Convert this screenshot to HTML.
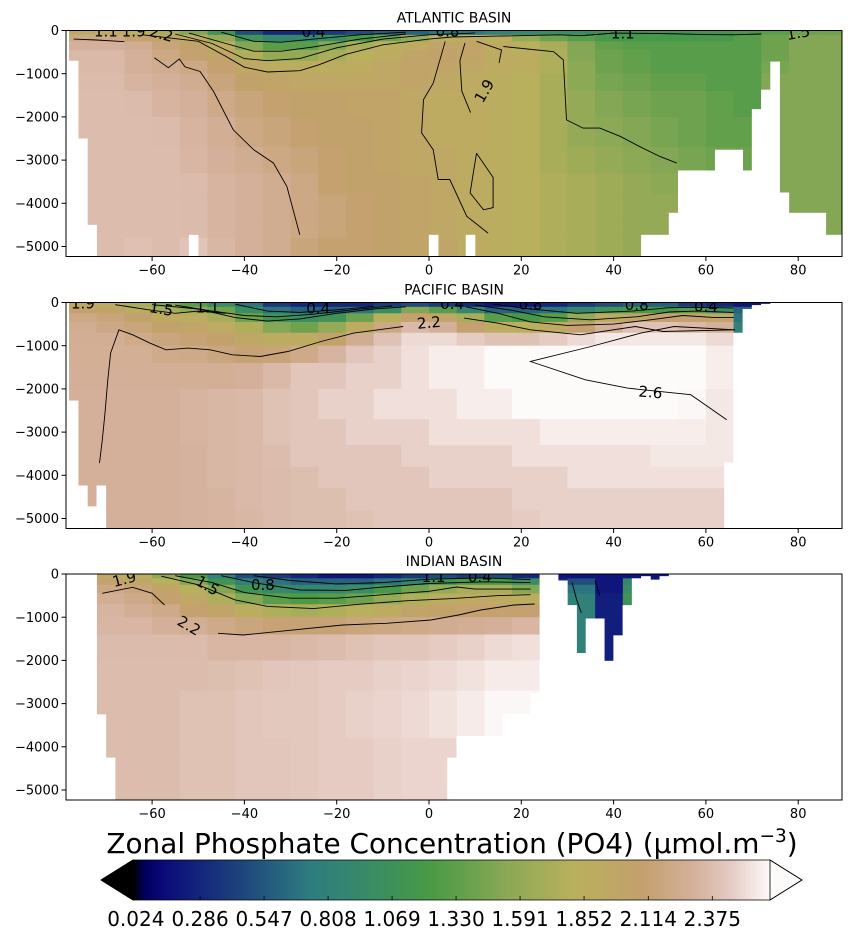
<!DOCTYPE html>
<html><head><meta charset="utf-8">
<style>
html,body{margin:0;padding:0;background:#fff;}
svg{display:block;}
text{font-family:"DejaVu Sans","Liberation Sans",sans-serif;fill:#000;}
</style></head>
<body>
<svg id="fig" width="854" height="940" viewBox="0 0 854 940" xmlns="http://www.w3.org/2000/svg"></svg>
<script>
// ---------------- data ----------------
const depthEdges=[0,100,250,450,700,1000,1400,2000,2700,3300,3800,4300,4800,5240];
const latEdges=[-78,-72,-66,-60,-54,-48,-42,-36,-30,-24,-18,-12,-6,0,6,12,18,24,30,36,42,48,54,60,66,72,78,84,90];
const binCenters=[-77,-75,-73,-71,-69,-67,-65,-63,-61,-59,-57,-55,-53,-51,-49,-47,-45,-43,-41,-39,-37,-35,-33,-31,-29,-27,-25,-23,-21,-19,-17,-15,-13,-11,-9,-7,-5,-3,-1,1,3,5,7,9,11,13,15,17,19,21,23,25,27,29,31,33,35,37,39,41,43,45,47,49,51,53,55,57,59,61,63,65,67,69,71,73,75,77,79,81,83,85,87,89];

const atlVals=[
[1.9,1.9,1.8,1.7,1.5,1.1,0.5,0.3,0.3,0.4,0.5,0.6,0.6,0.7,0.7,0.8,0.9,1.0,1.0,1.1,1.1,1.1,1.1,1.1,1.2,1.3,1.4,1.4],
[2.2,2.2,2.1,2.0,1.9,1.6,1.1,0.9,0.9,1.0,1.2,1.4,1.6,1.8,1.9,1.8,1.6,1.4,1.3,1.2,1.2,1.2,1.2,1.2,1.3,1.4,1.5,1.5],
[2.3,2.3,2.25,2.15,2.05,1.85,1.5,1.3,1.3,1.5,1.7,1.8,1.9,2.0,2.0,1.9,1.8,1.7,1.5,1.35,1.3,1.3,1.3,1.3,1.3,1.4,1.5,1.5],
[2.35,2.35,2.3,2.2,2.1,2.0,1.75,1.6,1.6,1.7,1.8,1.9,2.0,2.05,2.0,1.9,1.85,1.75,1.5,1.4,1.35,1.3,1.3,1.3,1.3,1.4,1.5,1.5],
[2.35,2.35,2.3,2.25,2.2,2.1,1.95,1.85,1.85,1.85,1.9,1.95,2.0,2.0,1.95,1.9,1.85,1.75,1.55,1.4,1.35,1.3,1.3,1.3,1.3,1.45,1.5,1.5],
[2.36,2.36,2.32,2.3,2.25,2.15,2.05,2.0,1.95,1.95,1.95,1.95,2.0,1.95,1.9,1.85,1.8,1.7,1.55,1.45,1.4,1.35,1.35,1.3,1.3,1.5,1.5,1.5],
[2.37,2.37,2.36,2.32,2.3,2.22,2.15,2.1,2.05,2.05,2.0,2.0,1.95,1.9,1.9,1.85,1.8,1.7,1.6,1.5,1.45,1.4,1.4,1.35,1.3,1.5,1.5,1.5],
[2.37,2.37,2.37,2.36,2.32,2.27,2.2,2.15,2.1,2.05,2.05,2.0,1.95,1.9,1.9,1.85,1.8,1.7,1.6,1.55,1.5,1.45,1.4,1.35,1.35,1.5,1.5,1.5],
[2.37,2.37,2.37,2.37,2.33,2.3,2.25,2.2,2.15,2.1,2.05,2.0,1.95,1.95,1.9,1.85,1.8,1.7,1.65,1.6,1.55,1.5,1.45,1.4,1.4,1.5,1.5,1.5],
[2.37,2.37,2.37,2.37,2.36,2.32,2.3,2.25,2.2,2.1,2.05,2.05,2.0,1.95,1.9,1.85,1.8,1.75,1.7,1.65,1.6,1.55,1.5,1.5,1.5,1.5,1.5,1.5],
[2.37,2.37,2.37,2.37,2.36,2.32,2.3,2.25,2.2,2.15,2.1,2.05,2.0,1.95,1.9,1.85,1.8,1.75,1.7,1.65,1.6,1.6,1.55,1.55,1.5,1.5,1.5,1.5],
[2.37,2.37,2.37,2.37,2.36,2.32,2.3,2.25,2.2,2.15,2.1,2.05,2.0,1.95,1.9,1.85,1.8,1.75,1.7,1.65,1.6,1.6,1.55,1.55,1.5,1.5,1.5,1.5],
[2.39,2.37,2.39,2.37,2.41,2.34,2.3,2.25,2.15,2.1,2.1,2.05,2.0,2.0,1.9,1.85,1.8,1.75,1.7,1.65,1.6,1.6,1.55,1.55,1.5,1.5,1.5,1.5]
];
const pacVals=[
[1.9,1.8,1.7,1.5,1.3,1.0,0.7,0.4,0.3,0.3,0.3,0.4,0.5,0.4,0.3,0.2,0.2,0.3,0.4,0.5,0.6,0.6,0.4,0.3,0.2,0.1],
[2.1,2.0,1.9,1.7,1.6,1.4,1.0,0.7,0.6,0.6,0.7,1.0,1.5,1.3,0.9,0.6,0.6,0.7,0.9,1.1,1.2,1.2,1.3,1.0,0.6,0.2],
[2.2,2.15,2.05,1.9,1.85,1.7,1.4,1.1,1.0,1.1,1.4,1.8,2.1,2.0,1.7,1.3,1.2,1.3,1.6,1.9,2.0,2.1,2.1,2.0,0.7],
[2.25,2.2,2.15,2.05,2.0,1.9,1.75,1.5,1.4,1.6,1.9,2.2,2.35,2.3,2.1,1.9,1.8,1.9,2.1,2.3,2.4,2.4,2.35,2.3,0.8],
[2.27,2.27,2.22,2.17,2.12,2.07,1.97,1.87,1.9,2.05,2.25,2.4,2.5,2.5,2.45,2.4,2.4,2.45,2.5,2.55,2.55,2.55,2.55,2.5],
[2.28,2.28,2.28,2.23,2.22,2.17,2.12,2.14,2.22,2.32,2.42,2.47,2.52,2.57,2.57,2.62,2.62,2.62,2.67,2.67,2.67,2.62,2.62,2.57],
[2.29,2.29,2.29,2.29,2.28,2.28,2.3,2.35,2.42,2.42,2.47,2.47,2.52,2.57,2.57,2.62,2.67,2.67,2.67,2.67,2.67,2.67,2.62,2.57],
[2.3,2.3,2.3,2.3,2.32,2.34,2.35,2.4,2.42,2.47,2.47,2.52,2.52,2.52,2.57,2.57,2.62,2.62,2.62,2.62,2.62,2.62,2.6,2.55],
[2.3,2.3,2.3,2.3,2.32,2.34,2.35,2.4,2.42,2.42,2.47,2.47,2.47,2.52,2.52,2.52,2.52,2.57,2.57,2.57,2.57,2.57,2.57,2.55],
[2.3,2.3,2.3,2.3,2.31,2.34,2.35,2.37,2.42,2.42,2.42,2.42,2.47,2.47,2.47,2.47,2.52,2.52,2.52,2.52,2.52,2.55,2.55,2.55],
[2.3,2.3,2.3,2.3,2.31,2.34,2.35,2.36,2.38,2.42,2.42,2.42,2.42,2.47,2.47,2.47,2.47,2.47,2.52,2.52,2.52,2.52,2.52,2.52],
[2.3,2.3,2.3,2.3,2.31,2.32,2.35,2.36,2.38,2.38,2.42,2.42,2.42,2.42,2.42,2.42,2.47,2.47,2.47,2.47,2.47,2.47,2.47,2.47],
[2.3,2.3,2.3,2.3,2.31,2.32,2.34,2.36,2.38,2.38,2.4,2.42,2.42,2.42,2.42,2.42,2.45,2.47,2.47,2.47,2.47,2.47,2.47,2.47]
];
const indVals=[
[1.9,1.9,1.8,1.6,1.2,0.8,0.5,0.4,0.3,0.2,0.2,0.3,0.4,0.5,0.4,0.5,0.3,0.2,0.2,0.2,0.2,0.2],
[2.1,2.1,2.0,1.8,1.5,1.1,0.8,0.7,0.6,0.6,0.6,0.7,0.9,1.1,1.2,1.2,1.0,0.3,0.5,0.2,0.9,0.2],
[2.2,2.2,2.15,2.0,1.8,1.5,1.1,0.95,0.9,0.9,1.0,1.2,1.4,1.6,1.7,1.7,1.5,0.3,0.7,0.2,1.0],
[2.27,2.27,2.22,2.1,1.95,1.75,1.5,1.3,1.25,1.3,1.4,1.6,1.75,1.85,1.9,1.9,1.85,0.3,0.8,0.25,1.1],
[2.32,2.32,2.27,2.22,2.1,2.0,1.85,1.75,1.7,1.75,1.8,1.9,2.0,2.05,2.1,2.1,2.1,0.3,0.8,0.25,1.1],
[2.33,2.33,2.33,2.3,2.27,2.22,2.17,2.12,2.12,2.12,2.17,2.2,2.22,2.25,2.27,2.3,2.33,0.3,0.8,0.25],
[2.36,2.36,2.36,2.36,2.36,2.33,2.33,2.33,2.35,2.37,2.4,2.42,2.42,2.45,2.47,2.5,2.52,0.3,0.8,0.25],
[2.37,2.37,2.37,2.37,2.37,2.38,2.4,2.42,2.43,2.45,2.45,2.47,2.48,2.5,2.53,2.56,2.56],
[2.37,2.37,2.37,2.37,2.4,2.4,2.42,2.43,2.43,2.45,2.47,2.48,2.5,2.53,2.56,2.6,2.6],
[2.37,2.37,2.37,2.37,2.4,2.4,2.42,2.43,2.43,2.45,2.47,2.48,2.5,2.53,2.56,2.6],
[2.37,2.37,2.37,2.37,2.4,2.4,2.42,2.42,2.43,2.45,2.45,2.47,2.48,2.48],
[2.37,2.37,2.37,2.37,2.4,2.4,2.42,2.42,2.43,2.45,2.45,2.47,2.48,2.48],
[2.37,2.37,2.37,2.37,2.4,2.4,2.42,2.42,2.43,2.45,2.45,2.47,2.48,2.48]
];

const atlBottom=[700,2500,4500,5240,5240,5240,5240,5240,5240,5240,5240,5240,5240,4730,5240,5240,5240,5240,5240,5240,5240,5240,5240,5240,5240,5240,5240,5240,5240,5240,5240,5240,5240,5240,5240,5240,5240,5240,5240,4730,5240,5240,5240,4730,5240,5240,5240,5240,5240,5240,5240,5240,5240,5240,5240,5240,5240,5240,5240,5240,5240,5240,4730,4730,4730,4220,3240,3240,3240,3240,2760,2760,2760,3240,1820,1370,720,3750,4220,4220,4220,4220,4730,4730];
const pacBottom=[2270,4236,4720,4236,5240,5240,5240,5240,5240,5240,5240,5240,5240,5240,5240,5240,5240,5240,5240,5240,5240,5240,5240,5240,5240,5240,5240,5240,5240,5240,5240,5240,5240,5240,5240,5240,5240,5240,5240,5240,5240,5240,5240,5240,5240,5240,5240,5240,5240,5240,5240,5240,5240,5240,5240,5240,5240,5240,5240,5240,5240,5240,5240,5240,5240,5240,5240,5240,5240,5240,5240,3700,700,150,60,30,0,0,0,0,0,0,0,0];
const indBottom=[0,0,0,3250,4250,5240,5240,5240,5240,5240,5240,5240,5240,5240,5240,5240,5240,5240,5240,5240,5240,5240,5240,5240,5240,5240,5240,5240,5240,5240,5240,5240,5240,5240,5240,5240,5240,5240,5240,5240,5240,4250,3750,3750,3750,3750,3750,3250,3250,3250,2760,0,0,150,720,1830,1030,1030,2280,1420,720,100,50,130,50,0,0,0,0,0,0,0,0,0,0,0,0,0,0,0,0,0,0,0];

// contour polylines [lat, depth]
const atlContours=[
[[-59.5,630],[-56.5,860],[-54.1,660],[-52.9,840],[-49.6,950],[-46.7,1410],[-42.4,2300],[-38,2760],[-33.7,3070],[-30.8,3610],[-28,4730]],
[[-62,100],[-50,250],[-44,600],[-40,850],[-35,960],[-28,930],[-24,800],[-18,550],[-10,330],[0,200],[5,150],[15,130],[28,100],[33,120],[40,60]],
[[-55,80],[-47,300],[-40,650],[-35,700],[-28,650],[-20,400],[-10,200],[0,100],[10,60]],
[[-52,60],[-44,300],[-38,480],[-32,480],[-25,380],[-15,200],[-5,80]],
[[-45,40],[-38,250],[-32,270],[-25,200],[-15,100],[-5,40]],
[[3.5,254],[0.9,1220],[-1.2,1600],[-1.6,2370],[0.9,2760],[2,3450],[4.5,3450],[8.2,4300],[12.8,4690]],
[[7.8,290],[6.7,700],[7.1,1400],[9,1900]],
[[10.3,250],[15.7,450],[15.2,750]],
[[10.3,2840],[8.9,3760],[11.8,4150],[13.9,4100],[13.9,3400],[10.3,2840]],
[[16.1,370],[27,490],[29.1,680],[29.8,2070],[33.4,2260],[37,2260],[41.4,2450],[45.7,2690],[50.1,2920],[53.7,3070]],
[[34,110],[40,60],[50,70],[60,95],[66,100],[72,80]],
[[-77,200],[-72,220],[-66,260]]
];
const pacContours=[
[[-71.4,3718],[-70.8,3178],[-70.2,2560],[-69.6,1789],[-69,1171],[-67.2,632],[-64.2,748],[-60.6,933],[-57,1095],[-52.2,1056],[-47.4,1095],[-42.6,1211],[-36.6,1250],[-30.6,1134],[-23.4,903],[-16.3,708],[-5.6,556]],
[[7.6,361],[14.8,477],[22,632],[32.8,748],[44.7,556],[50.7,671],[66.3,632]],
[[64.5,2715],[56.7,2134],[43,1982],[33.9,1789],[22,1366],[35.1,1018],[45.9,709],[53.1,556],[66.3,632]],
[[-60,50],[-50,150],[-42,350],[-35,430],[-28,380],[-20,250],[-12,150],[-5,100]],
[[-55,60],[-47,200],[-40,300],[-33,330],[-25,270],[-15,150],[-8,80]],
[[-42,40],[-35,200],[-28,230],[-20,170],[-12,90]],
[[8,100],[15,250],[22,450],[30,530],[40,500],[48,400],[55,300],[62,350],[66,350]],
[[10,60],[18,180],[25,330],[35,400],[45,330],[52,220],[58,200],[66,230]],
[[14,40],[22,150],[32,250],[44,200],[52,120],[60,110],[66,130]],
[[-68,50],[-60,180],[-55,250],[-50,200],[-44,250]]
];
const indContours=[
[[-45.7,1373],[-40.3,1412],[-33.1,1335],[-18.7,1181],[-9.2,1142],[0.4,1065],[6.4,949],[11.2,833],[18.4,718],[22.9,694]],
[[-70.8,447],[-64.2,308],[-60,447],[-57.3,718]],
[[-58,50],[-50,250],[-42,600],[-35,750],[-25,800],[-15,700],[-5,620],[5,570],[15,500],[22,480]],
[[-55,40],[-47,200],[-40,430],[-30,560],[-20,560],[-10,480],[0,400],[6,300],[10,350],[22,350]],
[[-45,40],[-38,200],[-28,370],[-18,380],[-10,300],[0,220],[12,180],[22,200]],
[[-38,40],[-30,150],[-20,230],[-10,200],[0,120],[12,90],[22,130]],
[[31,200],[32,600],[33,900]],[[36,150],[37,500]]
];
const atlLabels=[["1.1",-70,20,0],["1.9",-64,20,0],["2.2",-58,80,15],["0.4",-25,40,0],["0.8",4,20,0],["1.1",42,70,0],["1.5",80,60,-10],["1.9",12,1400,-60]];
const pacLabels=[["1.9",-75,20,0],["1.5",-58,150,10],["1.1",-48,110,0],["0.4",-24,140,0],["0.4",5,40,0],["0.8",22,50,0],["0.8",45,60,0],["0.4",60,90,0],["2.2",0,470,-5],["2.6",48,2080,5]];
const indLabels=[["1.9",-66,120,-15],["1.5",-48,270,30],["0.8",-36,260,0],["1.1",1,70,0],["0.4",11,70,0],["2.2",-52,1200,30]];

const xTicks=[-60,-40,-20,0,20,40,60,80];
const yTicks=[0,1000,2000,3000,4000,5000];
const cbarTicks=[0.024,0.286,0.547,0.808,1.069,1.330,1.591,1.852,2.114,2.375];
const cbarTickLabels=["0.024","0.286","0.547","0.808","1.069","1.330","1.591","1.852","2.114","2.375"];

// ---------------- rendering ----------------
const NS="http://www.w3.org/2000/svg";
const svg=document.getElementById('fig');
function mk(tag,attrs,parent){const e=document.createElementNS(NS,tag);for(const k in attrs)e.setAttribute(k,attrs[k]);(parent||svg).appendChild(e);return e;}

const VMIN=0.013,VMAX=2.61;
const stops=[[0,[0,0,0]],[0.02,[0,0,96]],[0.05,[11,11,122]],[0.15,[27,58,124]],[0.28,[46,125,128]],[0.40,[60,143,92]],[0.47,[74,154,69]],[0.58,[135,168,85]],[0.69,[185,176,92]],[0.80,[196,160,110]],[0.88,[212,176,154]],[0.94,[230,204,196]],[1,[253,250,250]]];
function cmapFrac(f){f=Math.max(0,Math.min(1,f));for(let i=1;i<stops.length;i++){if(f<=stops[i][0]){const a=stops[i-1],b=stops[i];const t=(f-a[0])/(b[0]-a[0]);const c=a[1].map((v,k)=>Math.round(v+(b[1][k]-v)*t));return `rgb(${c[0]},${c[1]},${c[2]})`;}}return 'rgb(253,250,250)';}
function cmap(v){return cmapFrac((v-VMIN)/(VMAX-VMIN));}

const AX_L=66,AX_R=842,PX_DEG=4.615,LAT0_X=429,PX_M=0.0432,AX_H=226;
function xScale(lat){return LAT0_X+lat*PX_DEG;}

const panels=[
 {name:'atlantic',title:'ATLANTIC BASIN',top:30.5,vals:atlVals,bottom:atlBottom,contours:atlContours,labels:atlLabels},
 {name:'pacific',title:'PACIFIC BASIN',top:302.5,vals:pacVals,bottom:pacBottom,contours:pacContours,labels:pacLabels},
 {name:'indian',title:'INDIAN BASIN',top:574,vals:indVals,bottom:indBottom,contours:indContours,labels:indLabels}
];

panels.forEach((p,pi)=>{
  const yScale=d=>p.top+d*PX_M;
  const g=mk('g',{});
  
  
  const cid='clip'+pi;
  const cp=mk('clipPath',{id:cid},g);
  mk('rect',{x:AX_L,y:p.top,width:AX_R-AX_L,height:AX_H},cp);
  const hm=mk('g',{'clip-path':`url(#${cid})`},g);
  
  
  for(let r=0;r<p.vals.length;r++){
    for(let c=0;c<latEdges.length-1;c++){
      const v=p.vals[r][c];
      if(v===undefined||v===null)continue;
      const x0=xScale(latEdges[c]),x1=xScale(latEdges[c+1]);
      const y0=yScale(depthEdges[r]),y1=yScale(depthEdges[r+1]);
      const rc=mk('rect',{x:x0.toFixed(2),y:y0.toFixed(2),width:(x1-x0+0.4).toFixed(2),height:(y1-y0+0.4).toFixed(2),fill:cmap(v)},hm);
      
      
    }
  }
  const mask=mk('g',{},hm);
  
  
  p.bottom.forEach((b,i)=>{
    if(b>=5240)return;
    const lat=binCenters[i];
    const x0=xScale(lat-1),x1=xScale(lat+1);
    const y0=yScale(b);
    const m=mk('rect',{x:(x0-0.2).toFixed(2),y:y0.toFixed(2),width:(x1-x0+0.4).toFixed(2),height:(yScale(5300)-y0).toFixed(2),fill:'#fff'},mask);
    
    
  });
  const cg=mk('g',{fill:'none',stroke:'#000','stroke-width':0.9},hm);
  
  
  p.contours.forEach(line=>{
    const d=line.map((pt,i)=>(i?'L':'M')+xScale(pt[0]).toFixed(1)+' '+yScale(pt[1]).toFixed(1)).join(' ');
    const pl=mk('path',{d:d},cg);
    
    
  });
  p.labels.forEach(l=>{
    const x=xScale(l[1]),y=yScale(l[2]);
    const t=mk('text',{x:x.toFixed(1),y:y.toFixed(1),'font-size':15,'text-anchor':'middle','dominant-baseline':'central',transform:`rotate(${l[3]} ${x.toFixed(1)} ${y.toFixed(1)})`},hm);
    t.textContent=l[0];
    
    
  });
  const fr=mk('rect',{x:AX_L,y:p.top,width:AX_R-AX_L,height:AX_H,fill:'none',stroke:'#000','stroke-width':1},g);
  
  
  const tt=mk('text',{x:(AX_L+AX_R)/2,y:p.top-8,'font-size':14,'text-anchor':'middle'},g);
  tt.textContent=p.title;
  
  
  const xa=mk('g',{},g);
  
  
  const yb=p.top+AX_H;
  xTicks.forEach(v=>{
    const x=xScale(v);
    mk('line',{x1:x,x2:x,y1:yb,y2:yb+4.5,stroke:'#000','stroke-width':1},xa);
    const t=mk('text',{x:x,y:yb+18,'font-size':13,'text-anchor':'middle'},xa);
    t.textContent=v<0?'\u2212'+(-v):String(v);
    
    
  });
  const ya=mk('g',{},g);
  
  
  yTicks.forEach(v=>{
    const y=yScale(v);
    mk('line',{x1:AX_L-4.5,x2:AX_L,y1:y,y2:y,stroke:'#000','stroke-width':1},ya);
    const t=mk('text',{x:AX_L-7,y:y+4.6,'font-size':13,'text-anchor':'end'},ya);
    t.textContent=v===0?'0':'\u2212'+v;
    
    
  });
});

// ---------------- colorbar ----------------
const CB_L=133,CB_R=770,CB_T=860,CB_B=900;
function cbX(v){return 712.3+(v-2.375)*245.2;}
const cb=mk('g',{});


const defs=mk('defs',{},cb);
const lg=mk('linearGradient',{id:'cbgrad',x1:0,x2:1,y1:0,y2:0},defs);
for(let i=0;i<=100;i++){const f=i/100;const v=VMIN+f*(VMAX-VMIN);const xf=(cbX(v)-CB_L)/(CB_R-CB_L);mk('stop',{offset:Math.max(0,Math.min(1,xf)),'stop-color':cmapFrac(f)},lg);}
const tri1=mk('polygon',{points:`${CB_L},${CB_T} ${CB_L},${CB_B} 101,880`,fill:'#000',stroke:'#000','stroke-width':0.8},cb);


const body=mk('rect',{x:CB_L,y:CB_T,width:CB_R-CB_L,height:CB_B-CB_T,fill:'url(#cbgrad)'},cb);


const tri2=mk('polygon',{points:`${CB_R},${CB_T} 802,880 ${CB_R},${CB_B}`,fill:'#fdfafa',stroke:'#000','stroke-width':0.8},cb);


mk('polyline',{points:`101,880 ${CB_L},${CB_T} ${CB_R},${CB_T} 802,880 ${CB_R},${CB_B} ${CB_L},${CB_B} 101,880`,fill:'none',stroke:'#000','stroke-width':0.8},cb);
cbarTicks.forEach((v,i)=>{
  const x=cbX(v);
  mk('line',{x1:x,x2:x,y1:CB_B-4,y2:CB_B,stroke:'#000','stroke-width':0.8},cb);
  const t=mk('text',{x:x,y:926,'font-size':20,'text-anchor':'middle'},cb);
  t.textContent=cbarTickLabels[i];
  
  
});
const ttl=mk('text',{x:452,y:853,'font-size':27.9,'text-anchor':'middle'});


ttl.innerHTML='Zonal Phosphate Concentration (PO4) (\u03bcmol.m<tspan font-size="18.5" dy="-11">\u22123</tspan><tspan dy="11">)</tspan>';
</script>
</body></html>
